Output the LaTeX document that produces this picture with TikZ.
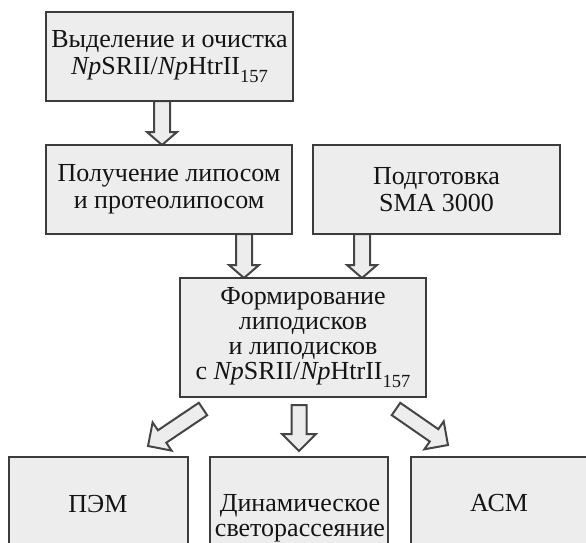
\documentclass[tikz,border=0pt]{standalone}
\usepackage{fontspec}
\setmainfont{Liberation Serif}
\usetikzlibrary{calc}
\definecolor{boxfill}{HTML}{EDEDED}
\definecolor{boxline}{HTML}{3C3C3C}
\definecolor{arrline}{HTML}{454545}
\definecolor{txt}{HTML}{141414}
\newcommand\sbs[1]{\raisebox{-0.3em}{\fontsize{18.5}{18.5}\selectfont #1}}
\newcommand\blockarr[5]{%
  \coordinate (ba-h) at ($(#2)!#5!(#1)$);
  \draw[barrow] ($(#1)!#3!90:(#2)$) -- ($(ba-h)!#3!-90:(#1)$) -- ($(ba-h)!#4!-90:(#1)$) -- (#2) -- ($(ba-h)!#4!90:(#1)$) -- ($(ba-h)!#3!90:(#1)$) -- ($(#1)!#3!-90:(#2)$) -- cycle;}
\tikzset{
  box/.style={draw=boxline, fill=boxfill, line width=2.4pt, inner sep=0pt, align=center,
    text=txt, font=\fontsize{26}{26.5}\selectfont},
  lbl/.style={inner sep=0pt, align=center, text=txt, font=\fontsize{26}{24.5}\selectfont},
  barrow/.style={draw=arrline, fill=boxfill, line width=2pt, line join=miter}
}
\begin{document}
\begin{tikzpicture}[x=1pt, y=-1pt]
\useasboundingbox (0,0) rectangle (586,543);
\clip (0,0) rectangle (586,543);
% arrow end points
\coordinate (a1s) at (162,101);
\coordinate (a1e) at (162,145);
\coordinate (a2s) at (244,234);
\coordinate (a2e) at (244,278);
\coordinate (a3s) at (362,234);
\coordinate (a3e) at (362,278);
\coordinate (a4s) at (203,409);
\coordinate (a4e) at (148,446);
\coordinate (a5s) at (299,405);
\coordinate (a5e) at (299,451);
\coordinate (a6s) at (396,409);
\coordinate (a6e) at (448,445);
% arrows
\blockarr{a1s}{a1e}{8pt}{15pt}{13pt}
\blockarr{a2s}{a2e}{8pt}{15pt}{13pt}
\blockarr{a3s}{a3e}{8pt}{15pt}{13pt}
\blockarr{a4s}{a4e}{7.5pt}{17pt}{17pt}
\blockarr{a5s}{a5e}{7.5pt}{17pt}{17pt}
\blockarr{a6s}{a6e}{7.5pt}{17pt}{17pt}
% boxes
\node[box, minimum width=247pt, minimum height=89pt] (b1) at (169.5,56.5)
  {Выделение и очистка\\\textit{Np}SRII/\textit{Np}HtrII\sbs{157}};
\node[box, minimum width=246pt, minimum height=89pt] (b2) at (169,189.5)
  {Получение липосом\\и протеолипосом};
\node[box, minimum width=247pt, minimum height=89pt] (b3) at (436.5,189.5)
  {Подготовка\\SMA 3000};
\node[box, minimum width=246pt, minimum height=119pt, font=\fontsize{26}{25}\selectfont] (b4) at (303,337.5)
  {Формирование\\липодисков\\и липодисков\\с \textit{Np}SRII/\textit{Np}HtrII\sbs{157}};
\node[box, minimum width=179pt, minimum height=130pt] (b5) at (98.5,522) {};
\node[box, minimum width=178pt, minimum height=130pt] (b6) at (299,522) {};
\node[box, minimum width=200pt, minimum height=130pt] (b7) at (511,522) {};
\node[lbl, anchor=base] (t5) at (98,512) {ПЭМ};
\node[lbl] (t6) at (300,518) {Динамическое\\светорассеяние};
\node[lbl, anchor=base] (t7) at (499,511) {АСМ};
\end{tikzpicture}
\end{document}
